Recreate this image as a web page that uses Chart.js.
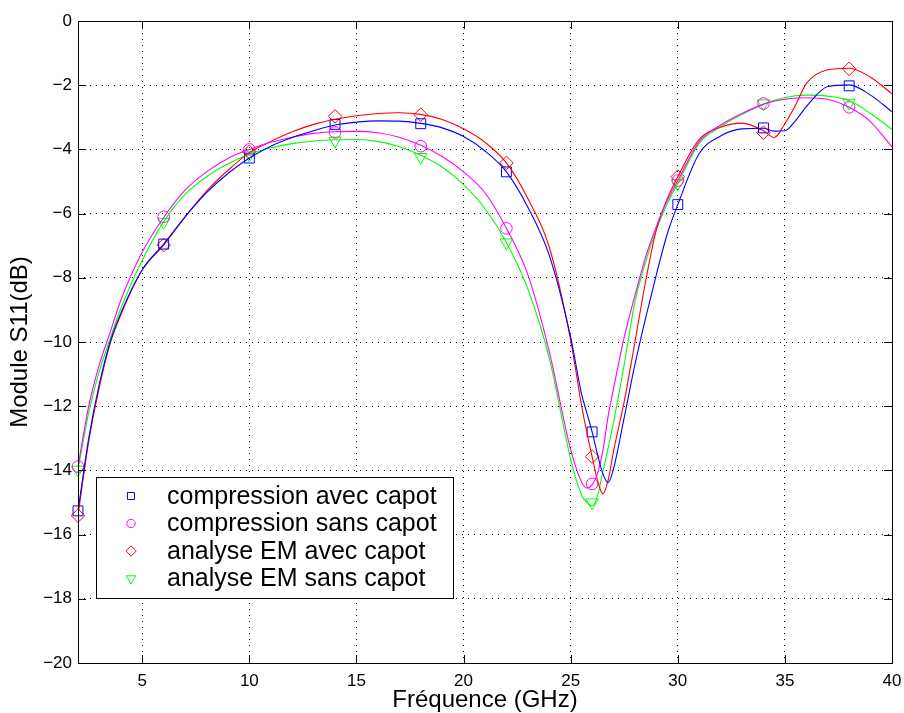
<!DOCTYPE html>
<html>
<head>
<meta charset="utf-8">
<title>Module S11</title>
<script src="https://cdn.jsdelivr.net/npm/chart.js@4.4.0/dist/chart.umd.min.js"></script>
<style>
  html, body { margin: 0; padding: 0; background: #fff; }
  #wrap { position: relative; width: 904px; height: 713px; }
</style>
</head>
<body>
<div id="wrap"><canvas id="s11Chart" width="904" height="713"></canvas></div>
<script>
// measured points (markers)
const markerFreq = [2, 6, 10, 14, 18, 22, 26, 30, 34, 38];
const compAvecPts = [-15.26, -6.95, -4.27, -3.22, -3.2, -4.7, -12.8, -5.72, -3.33, -2.02];
const compSansPts = [-13.88, -6.1, -4.0, -3.47, -3.9, -6.46, -14.42, -4.97, -2.57, -2.69];
const emAvecPts = [-15.41, -6.98, -4.08, -2.97, -2.92, -4.42, -13.57, -4.85, -3.48, -1.49];
const emSansPts = [-13.98, -6.26, -4.17, -3.73, -4.24, -6.9, -15.0, -5.06, -2.57, -2.55];

// fitted curves
const curveFreq = [2, 2.5, 3, 3.5, 4, 5, 6, 7, 8, 9, 10, 11, 12, 13, 14, 15, 16, 17, 18, 19, 20, 21, 22, 23, 24,
  25, 25.5, 25.75, 26, 26.25, 26.5, 26.75, 27, 27.5, 28, 28.5, 29, 29.5, 30, 31, 32, 33, 34, 34.5, 35, 35.5, 36, 37, 38, 39, 40];
const compAvecCurve = [-15.26, -13.0, -11.3, -10.0, -9.1, -7.75, -6.95, -6.1, -5.35, -4.75, -4.27, -3.9, -3.63, -3.42, -3.24, -3.15, -3.11, -3.12, -3.19, -3.33, -3.6, -4.05, -4.7, -5.8, -7.3,
  -9.85, -11.6, -12.2, -12.8, -13.5, -14.1, -14.38, -13.95, -12.35, -10.7, -9.25, -7.9, -6.65, -5.72, -4.13, -3.58, -3.36, -3.34, -3.43, -3.42, -3.1, -2.67, -2.04, -1.99, -2.31, -2.83];
const compSansCurve = [-13.88, -12.0, -10.7, -9.7, -8.7, -7.2, -6.12, -5.27, -4.7, -4.28, -4.0, -3.78, -3.62, -3.5, -3.45, -3.44, -3.48, -3.62, -3.87, -4.22, -4.7, -5.35, -6.46, -7.9, -10.3,
  -13.35, -14.35, -14.55, -14.45, -14.1, -13.4, -12.3, -11.45, -9.85, -8.55, -7.35, -6.4, -5.6, -4.97, -3.76, -3.24, -2.88, -2.59, -2.5, -2.44, -2.4, -2.39, -2.44, -2.69, -3.14, -3.92];
const emAvecCurve = [-15.41, -13.1, -11.4, -10.05, -9.15, -7.75, -6.98, -6.1, -5.3, -4.65, -4.1, -3.75, -3.45, -3.22, -3.06, -2.95, -2.88, -2.86, -2.91, -3.07, -3.36, -3.78, -4.42, -5.53, -7.04,
  -9.95, -11.95, -12.8, -13.57, -14.3, -14.73, -14.3, -13.4, -11.85, -10.0, -8.1, -6.5, -5.55, -4.85, -3.69, -3.31, -3.18, -3.42, -3.63, -3.2, -2.62, -1.95, -1.52, -1.47, -1.75, -2.27];
const emSansCurve = [-13.98, -12.2, -10.9, -9.9, -8.95, -7.45, -6.25, -5.4, -4.85, -4.45, -4.15, -3.95, -3.82, -3.74, -3.7, -3.69, -3.75, -3.92, -4.18, -4.55, -5.1, -5.85, -6.9, -8.35, -10.5,
  -13.65, -14.75, -15.0, -15.1, -14.8, -14.05, -13.3, -12.5, -10.7, -8.75, -7.5, -6.5, -5.7, -5.06, -3.81, -3.29, -2.91, -2.59, -2.47, -2.39, -2.33, -2.31, -2.34, -2.48, -2.88, -3.38];

const seriesNames = ['compression avec capot', 'compression sans capot', 'analyse EM avec capot', 'analyse EM sans capot'];
const seriesColors = ['#0000ff', '#ff00ff', '#ff0000', '#00ff00'];
const markerStyles = ['rect', 'circle', 'rectRot', 'triangle'];
const markerRadius = [7, 5.8, 6.8, 7.2];
const markerRotation = [0, 0, 0, 180];

const xTicks = [5, 10, 15, 20, 25, 30, 35, 40];
const FONT = "'Liberation Sans', Arial, Helvetica, sans-serif";

const toXY = (xs, ys) => xs.map((x, i) => ({ x: x, y: ys[i] }));
const curves = [compAvecCurve, compSansCurve, emAvecCurve, emSansCurve];
const points = [compAvecPts, compSansPts, emAvecPts, emSansPts];

const datasets = [];
curves.forEach((c, i) => {
  datasets.push({
    label: seriesNames[i] + ' (courbe)',
    data: toXY(curveFreq, c),
    showLine: true,
    borderColor: seriesColors[i],
    borderWidth: 1.1,
    pointRadius: 0,
    cubicInterpolationMode: 'monotone',
    fill: false
  });
});
points.forEach((p, i) => {
  datasets.push({
    label: seriesNames[i],
    data: toXY(markerFreq, p),
    showLine: false,
    clip: false,
    borderColor: seriesColors[i],
    backgroundColor: 'rgba(0,0,0,0)',
    borderWidth: 1,
    pointStyle: markerStyles[i],
    pointRadius: markerRadius[i],
    pointRotation: markerRotation[i]
  });
});

function drawMarker(ctx, style, x, y, r, rot, color) {
  ctx.save();
  ctx.strokeStyle = color;
  ctx.lineWidth = 1;
  ctx.beginPath();
  if (style === 'rect') {
    const s = Math.SQRT1_2 * r;
    ctx.rect(x - s, y - s, 2 * s, 2 * s);
  } else if (style === 'circle') {
    ctx.arc(x, y, r, 0, Math.PI * 2);
  } else if (style === 'rectRot') {
    ctx.moveTo(x, y - r); ctx.lineTo(x + r, y); ctx.lineTo(x, y + r); ctx.lineTo(x - r, y); ctx.closePath();
  } else {
    let a = rot * Math.PI / 180;
    ctx.moveTo(x + Math.sin(a) * r, y - Math.cos(a) * r);
    a += 2 * Math.PI / 3;
    ctx.lineTo(x + Math.sin(a) * r, y - Math.cos(a) * r);
    a += 2 * Math.PI / 3;
    ctx.lineTo(x + Math.sin(a) * r, y - Math.cos(a) * r);
    ctx.closePath();
  }
  ctx.stroke();
  ctx.restore();
}

// axes box, inward ticks, legend
const framePlugin = {
  id: 'frame',
  afterDraw(chart) {
    const ctx = chart.ctx;
    const a = chart.chartArea;
    const xs = chart.scales.x, ys = chart.scales.y;
    ctx.save();
    ctx.strokeStyle = '#000';
    ctx.lineWidth = 1;
    ctx.setLineDash([]);
    ctx.strokeRect(Math.round(a.left) + 0.5, Math.round(a.top) + 0.5, Math.round(a.right - a.left), Math.round(a.bottom - a.top));
    ctx.beginPath();
    xTicks.forEach(v => {
      const px = Math.round(xs.getPixelForValue(v)) + 0.5;
      ctx.moveTo(px, a.bottom); ctx.lineTo(px, a.bottom - 8);
      ctx.moveTo(px, a.top); ctx.lineTo(px, a.top + 8);
    });
    for (let v = -18; v <= -2; v += 2) {
      const py = Math.round(ys.getPixelForValue(v)) + 0.5;
      ctx.moveTo(a.left, py); ctx.lineTo(a.left + 8, py);
      ctx.moveTo(a.right, py); ctx.lineTo(a.right - 8, py);
    }
    ctx.stroke();

    // legend box
    const lx = a.left + 18, ly = a.top + 456, lw = 357, lh = 121;
    ctx.fillStyle = '#fff';
    ctx.fillRect(lx, ly, lw, lh);
    ctx.strokeRect(lx + 0.5, ly + 0.5, lw, lh);
    ctx.font = '25px ' + FONT;
    ctx.fillStyle = '#000';
    ctx.textBaseline = 'middle';
    seriesNames.forEach((name, i) => {
      const ry = ly + 19 + i * 27.5;
      drawMarker(ctx, markerStyles[i], lx + 35, ry, [5, 4.2, 5.2, 5.4][i], markerRotation[i], seriesColors[i]);
      ctx.fillText(name, lx + 71, ry + 1);
    });
    ctx.restore();
  }
};

new Chart(document.getElementById('s11Chart'), {
  type: 'scatter',
  data: { datasets: datasets },
  plugins: [framePlugin],
  options: {
    responsive: false,
    animation: false,
    devicePixelRatio: 1,
    layout: { padding: { left: 0, right: 12, top: 21, bottom: 0 } },
    plugins: {
      legend: { display: false },
      tooltip: { enabled: false }
    },
    scales: {
      x: {
        type: 'linear',
        min: 2,
        max: 40,
        afterBuildTicks: (scale) => { scale.ticks = xTicks.map(v => ({ value: v })); },
        afterFit: (scale) => { scale.height = 50; scale.paddingLeft = 0; scale.paddingRight = 0; },
        grid: { color: '#000', lineWidth: 1, drawTicks: false },
        border: { display: false, dash: [1, 5] },
        ticks: { color: '#000', font: { family: FONT, size: 17 }, padding: 8, maxRotation: 0 },
        title: { display: true, text: 'Fréquence (GHz)', color: '#000', font: { family: FONT, size: 24, lineHeight: 1.05 }, padding: { top: 0, bottom: 0 } }
      },
      y: {
        min: -20,
        max: 0,
        ticks: {
          stepSize: 2,
          color: '#000',
          font: { family: FONT, size: 17 },
          padding: 6,
          callback: (v) => (v < 0 ? '\u2212' + Math.abs(v) : String(v))
        },
        afterFit: (scale) => { scale.width = 78; scale.paddingTop = 0; scale.paddingBottom = 0; },
        grid: { color: '#000', lineWidth: 1, drawTicks: false },
        border: { display: false, dash: [1, 5] },
        title: { display: true, text: 'Module S11(dB)', color: '#000', font: { family: FONT, size: 24 }, padding: { top: 6, bottom: 0 } }
      }
    }
  }
});
</script>
</body>
</html>
